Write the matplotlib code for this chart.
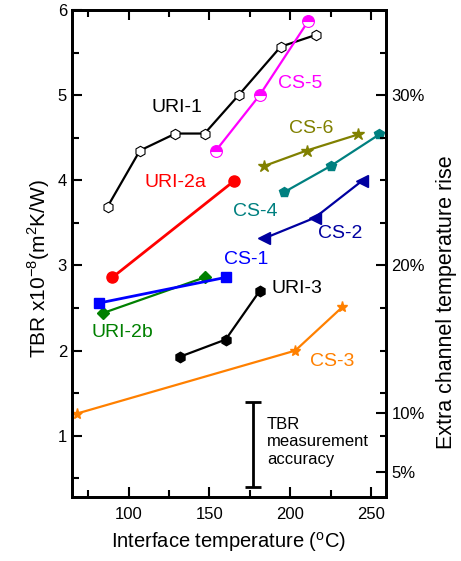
import matplotlib
matplotlib.use("Agg")
import matplotlib.pyplot as plt
from matplotlib.ticker import MultipleLocator, FixedLocator

plt.rcParams["font.family"] = ["Liberation Sans", "DejaVu Sans"]
plt.rcParams["mathtext.fontset"] = "custom"
plt.rcParams["mathtext.rm"] = "Liberation Sans"

# interface temperature (C) and TBR (x1e-8 m2K/W) per sample
uri1_t = [87, 107, 129, 147, 168, 194, 216]
uri1_tbr = [3.69, 4.35, 4.55, 4.55, 5.0, 5.57, 5.71]
cs5_t = [154, 181, 211]
cs5_tbr = [4.35, 5.0, 5.87]
cs6_t = [184, 210, 242]
cs6_tbr = [4.17, 4.35, 4.54]
cs4_t = [196, 225, 255]
cs4_tbr = [3.86, 4.17, 4.54]
cs2_t = [184, 215, 244]
cs2_tbr = [3.32, 3.56, 3.99]
uri2a_t = [90, 165]
uri2a_tbr = [2.86, 3.99]
cs1_t = [82, 160]
cs1_tbr = [2.56, 2.86]
uri2b_t = [84, 147]
uri2b_tbr = [2.44, 2.86]
uri3_t = [132, 160, 181]
uri3_tbr = [1.93, 2.13, 2.70]
cs3_t = [68, 203, 232]
cs3_tbr = [1.26, 2.0, 2.51]

# accuracy bar (TBR range) at one temperature
acc_t = 177
acc_lo, acc_hi = 0.40, 1.40

# right axis: temperature rise labels at their TBR positions
rise_tbr = [5.0, 3.0, 1.27, 0.58]
rise_labels = ["30%", "20%", "10%", "5%"]

fig = plt.figure(figsize=(4.61, 5.61), dpi=100)
ax = fig.add_axes([0.156, 0.114, 0.681, 0.868])

lw = 1.6
ax.plot(uri1_t, uri1_tbr, "-", color="black", lw=lw, marker="h", ms=7.5,
        mfc="white", mec="black", mew=0.8)
ax.plot(cs5_t, cs5_tbr, "-", color="#ff00ff", lw=lw, marker="o", ms=8.5,
        fillstyle="top", mfc="#ff00ff", mfcalt="white", mec="#ff00ff", mew=0.8)
ax.plot(cs6_t, cs6_tbr, "-", color="#808000", lw=lw, marker="*", ms=9)
ax.plot(cs4_t, cs4_tbr, "-", color="#008080", lw=lw, marker="p", ms=7.5)
ax.plot(cs2_t, cs2_tbr, "-", color="#0000a0", lw=lw, marker="<", ms=8)
ax.plot(uri2a_t, uri2a_tbr, "-", color="#ff0000", lw=2.0, marker="o", ms=8)
ax.plot(uri2b_t, uri2b_tbr, "-", color="#008000", lw=lw, marker="D", ms=6)
ax.plot(cs1_t, cs1_tbr, "-", color="#0000ff", lw=2.0, marker="s", ms=7)
ax.plot(uri3_t, uri3_tbr, "-", color="black", lw=lw, marker="h", ms=7.5)
ax.plot(cs3_t, cs3_tbr, "-", color="#ff8000", lw=lw, marker="*", ms=8)

ax.errorbar([acc_t], [(acc_lo + acc_hi) / 2], yerr=[(acc_hi - acc_lo) / 2],
            fmt="none", ecolor="black", elinewidth=2, capsize=6, capthick=2)
ax.text(185.5, 0.93, "TBR\nmeasurement\naccuracy", fontsize=12, va="center",
        ha="left", linespacing=1.2)

fs = 14
ax.text(130, 4.86, "URI-1", color="black", fontsize=fs, ha="center", va="center")
ax.text(206, 5.14, "CS-5", color="#ff00ff", fontsize=fs, ha="center", va="center")
ax.text(213, 4.61, "CS-6", color="#808000", fontsize=fs, ha="center", va="center")
ax.text(129, 3.97, "URI-2a", color="#ff0000", fontsize=fs, ha="center", va="center")
ax.text(178, 3.63, "CS-4", color="#008080", fontsize=fs, ha="center", va="center")
ax.text(231, 3.38, "CS-2", color="#0000a0", fontsize=fs, ha="center", va="center")
ax.text(173, 3.07, "CS-1", color="#0000ff", fontsize=fs, ha="center", va="center")
ax.text(204, 2.73, "URI-3", color="black", fontsize=fs, ha="center", va="center")
ax.text(96, 2.21, "URI-2b", color="#008000", fontsize=fs, ha="center", va="center")
ax.text(226, 1.87, "CS-3", color="#ff8000", fontsize=fs, ha="center", va="center")

ax.set_xlim(65, 259)
ax.set_ylim(0.28, 6.0)
ax.xaxis.set_major_locator(MultipleLocator(50))
ax.xaxis.set_minor_locator(MultipleLocator(25))
ax.yaxis.set_major_locator(MultipleLocator(1))
ax.yaxis.set_minor_locator(MultipleLocator(0.5))
ax.tick_params(which="both", direction="in", top=True, labelsize=12, width=1.5)
ax.tick_params(axis="x", pad=7)
ax.tick_params(which="major", length=7)
ax.tick_params(which="minor", length=5)
ax.tick_params(axis="y", right=False)
for s in ax.spines.values():
    s.set_linewidth(2)

ax.set_xlabel(r"Interface temperature ($^{\mathrm{o}}$C)", fontsize=14.5, labelpad=6)
ax.set_ylabel(r"TBR x10$^{-8}$(m$^{2}$K/W)", fontsize=15, labelpad=4)
ax.yaxis.label.set_y(0.47)

ax2 = ax.twinx()
ax2.set_ylim(ax.get_ylim())
ax2.yaxis.set_major_locator(FixedLocator(rise_tbr))
ax2.set_yticklabels(rise_labels)
ax2.yaxis.set_minor_locator(FixedLocator([1, 1.5, 2, 2.5, 3.5, 4, 4.5, 5.5]))
ax2.tick_params(which="both", direction="in", labelsize=12, width=1.5, pad=4)
ax2.tick_params(which="major", length=7)
ax2.tick_params(which="minor", length=4)
for s in ax2.spines.values():
    s.set_linewidth(2)
ax2.set_ylabel("Extra channel temperature rise", fontsize=15.5, labelpad=8)
ax2.yaxis.label.set_y(0.40)

fig.savefig("out.png", dpi=100)
